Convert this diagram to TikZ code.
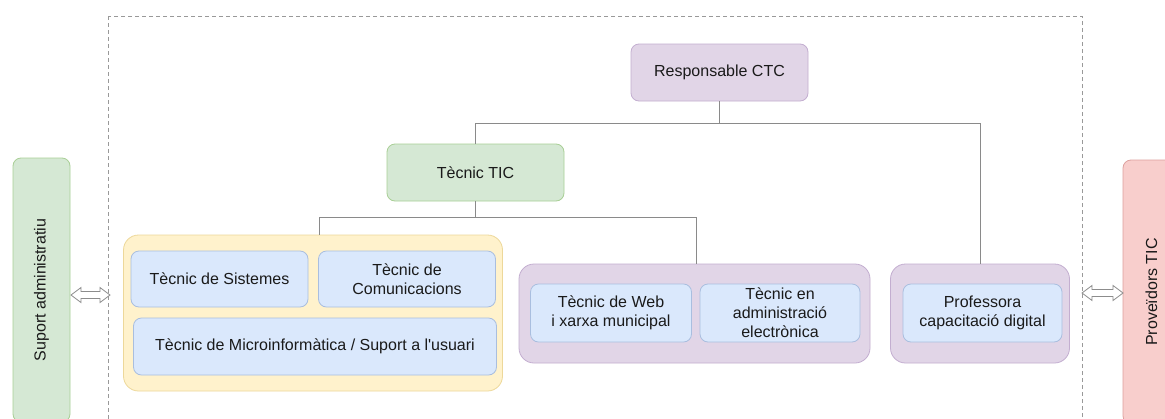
\documentclass[tikz,border=0pt]{standalone}
\usepackage{fontspec}
\setmainfont{Liberation Sans}
\usetikzlibrary{calc}
\definecolor{purfill}{HTML}{E1D5E7}
\definecolor{purline}{HTML}{C3AED0}
\definecolor{grnfill}{HTML}{D5E8D4}
\definecolor{grnline}{HTML}{A9CF96}
\definecolor{yelfill}{HTML}{FFF2CC}
\definecolor{yelline}{HTML}{EDD89A}
\definecolor{blufill}{HTML}{DAE8FC}
\definecolor{bluline}{HTML}{A9BEDF}
\definecolor{redfill}{HTML}{F8CECC}
\definecolor{redline}{HTML}{DDA09E}
\definecolor{connc}{HTML}{8A8A8A}
\definecolor{txtc}{HTML}{1A1A1A}
\newcommand\dblarrow[2]{%
  \draw[flexarr] let \p1=#1, \p2=#2 in
    (\x1,\y1) -- (\x1+10pt,\y1+7.5pt) -- (\x1+10pt,\y1+3.5pt) --
    (\x2-10pt,\y1+3.5pt) -- (\x2-10pt,\y1+7.5pt) -- (\x2,\y1) --
    (\x2-10pt,\y1-7.5pt) -- (\x2-10pt,\y1-3.5pt) -- (\x1+10pt,\y1-3.5pt) --
    (\x1+10pt,\y1-7.5pt) -- cycle;}
\tikzset{
  basebox/.style={rounded corners=8pt, line width=0.8pt, align=center, inner sep=0pt,
    font=\fontsize{16}{19}\selectfont, text=txtc},
  purbox/.style={basebox, draw=purline, fill=purfill},
  grnbox/.style={basebox, draw=grnline, fill=grnfill},
  blubox/.style={basebox, draw=bluline, fill=blufill},
  redbox/.style={basebox, draw=redline, fill=redfill},
  yelgrp/.style={basebox, rounded corners=15pt, draw=yelline, fill=yelfill},
  purgrp/.style={basebox, rounded corners=15pt, draw=purline, fill=purfill},
  conn/.style={draw=connc, line width=0.9pt},
  frame/.style={draw=black!40, line width=0.8pt, dash pattern=on 4pt off 3pt},
  flexarr/.style={draw=black!45, fill=white, line width=0.8pt, line join=miter}
}
\begin{document}
\begin{tikzpicture}[x=1pt,y=-1pt]
\useasboundingbox (0,0) rectangle (1165,418);
\clip (0,0) rectangle (1165,418);
\fill[white] (0,0) rectangle (1165,418);
% dashed frame
\draw[frame] (108,16) rectangle (1082,440);
% side boxes
\node[grnbox, rotate=90, minimum width=264pt, minimum height=57pt] (sup) at (41.5,290) {Suport administratiu};
\node[redbox, rotate=90, minimum width=264pt, minimum height=57pt] (prov) at (1151.5,292) {Proveïdors TIC};
% main nodes
\node[purbox, minimum width=177pt, minimum height=57pt] (resp) at (719.5,72.5) {Responsable CTC};
\node[grnbox, minimum width=177pt, minimum height=57pt] (tic) at (475.5,172.5) {Tècnic TIC};
% groups
\node[yelgrp, minimum width=379pt, minimum height=156pt] (ygrp) at (313,313) {};
\node[purgrp, minimum width=351pt, minimum height=99pt] (pgrp) at (694.5,313.5) {};
\node[purgrp, minimum width=179pt, minimum height=99pt] (qgrp) at (980,313.5) {};
% inner nodes
\node[blubox, minimum width=177pt, minimum height=56pt] (sis) at (219.5,279) {Tècnic de Sistemes};
\node[blubox, minimum width=177pt, minimum height=56pt] (com) at (407,279) {Tècnic de\\Comunicacions};
\node[blubox, minimum width=363pt, minimum height=57pt] (micro) at (315,346.5) {Tècnic de Microinformàtica / Suport a l\textquotesingle usuari};
\node[blubox, minimum width=161pt, minimum height=58pt] (web) at (611,313) {Tècnic de Web\\i xarxa municipal};
\node[blubox, minimum width=160pt, minimum height=58pt] (adm) at (780,313) {Tècnic en\\administració\\electrònica};
\node[blubox, minimum width=159pt, minimum height=58pt] (prof) at (982.5,313) {Professora\\capacitació digital};
% connectors
\draw[conn] (resp.south) -- ++(0,22.5) -| (tic.north);
\draw[conn] (resp.south) -- ++(0,22.5) -| (qgrp.north);
\draw[conn] (tic.south) -- ++(0,16) -| ($(ygrp.north)+(6,0)$);
\draw[conn] (tic.south) -- ++(0,16) -| ($(pgrp.north)+(1.5,0)$);
% double arrows
\coordinate (aL1) at (71,295);
\coordinate (aL2) at (110,295);
\coordinate (aR1) at (1082,293);
\coordinate (aR2) at (1123,293);
\dblarrow{(aL1)}{(aL2)}
\dblarrow{(aR1)}{(aR2)}
\end{tikzpicture}
\end{document}
